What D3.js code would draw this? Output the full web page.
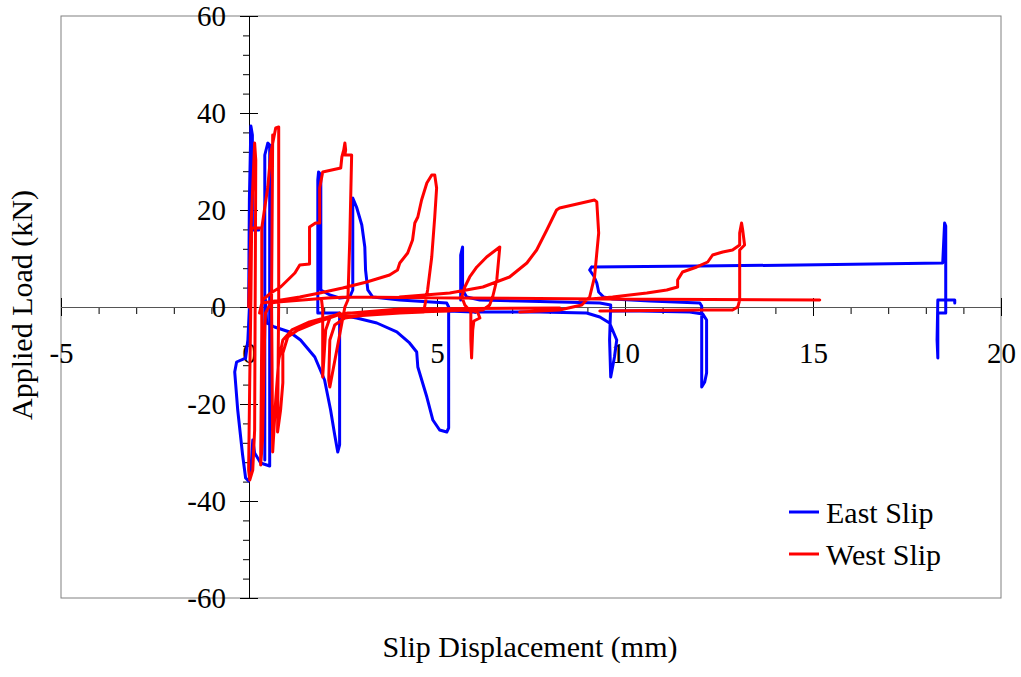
<!DOCTYPE html>
<html><head><meta charset="utf-8">
<script src="https://cdn.jsdelivr.net/npm/d3@7"></script>
<style>body{margin:0;background:#fff}svg{display:block}text{font-family:"Liberation Serif","Times New Roman",serif;fill:#000}</style>
</head><body><svg id="c" width="1021" height="677"></svg>
<script>
// ---- data (slip mm, load kN) ----
const xTicks = [-5, 0, 5, 10, 15, 20];
const yTicks = [-60, -40, -20, 0, 20, 40, 60];
const seriesNames = ["East Slip", "West Slip"];

const eastA = [[-0.01,0],[0.01,22.06],[0.05,37.32],[0.09,35.46],[0.09,15.88],[0.26,15.88]];
const eastB = [[0.02,1.44],[-0.03,-6.80],[-0.09,-10.52],[-0.33,-11.34],[-0.38,-13.40],[-0.30,-21.24],[-0.17,-30.52],[-0.09,-35.26],[-0.01,-35.88],[0.05,-33.61],[0.10,-27.42],[0.15,-30.10],[0.31,-32.16],[0.55,-32.78],[0.55,33.40],[0.50,33.81],[0.42,31.34],[0.42,-31.55]];
const eastC = [[0.44,1.44],[0.47,-3.30],[0.68,-4.12],[1.08,-5.15],[1.37,-6.80],[1.75,-10.31],[2.01,-15.05],[2.17,-21.24],[2.28,-26.39],[2.36,-29.90],[2.41,-28.45],[2.41,-1.65],[2.86,-2.27],[3.40,-3.30],[3.93,-5.15],[4.27,-7.42],[4.46,-9.28],[4.49,-12.37],[4.73,-18.56],[4.89,-23.30],[5.07,-25.36],[5.26,-25.77],[5.31,-24.95],[5.31,-0.82],[5.95,-1.03],[7.73,-1.03],[8.98,-1.24],[9.33,-2.06],[9.59,-3.30],[9.78,-6.80],[9.72,-10.31],[9.62,-14.43],[9.59,-6.80],[9.62,0.41],[9.33,0.82],[8.26,1.03],[7.20,1.24],[6.14,1.44],[5.79,2.06],[5.68,3.51],[5.68,12.37],[5.63,10.72],[5.63,1.44]];
const eastD = [[2.41,-1.24],[1.83,-1.24],[1.83,26.19],[1.85,27.84],[1.91,27.22],[1.91,3.51],[2.15,2.47],[2.41,1.86],[2.68,2.06],[2.76,3.51],[2.76,22.47],[2.86,20.62],[3.00,16.91],[3.08,12.37],[3.10,7.63],[3.16,3.51],[3.29,2.06],[4.01,1.44],[5.26,0.82],[5.31,0]];
const eastE = [[9.11,8.25],[9.06,7.63],[9.17,6.39],[9.25,4.95],[9.30,3.09],[9.43,2.06],[9.67,1.65],[10.66,1.24],[11.99,0.82],[12.04,0.21],[12.04,-16.49],[12.12,-15.46],[12.17,-13.61],[12.17,-2.68],[12.07,-1.44],[11.72,-1.03],[10.39,-0.82],[9.67,-0.82]];
const eastF = [[9.11,8.25],[11.99,8.45],[14.65,8.66],[18.45,9.07],[18.50,17.32],[18.53,16.70],[18.53,-1.24],[18.32,-1.24],[18.32,-10.52],[18.30,-6.80],[18.32,1.44],[18.77,1.44],[18.77,0.82]];

const westA = [[-0.01,0],[0.05,15.88],[0.15,33.81],[0.18,30.31],[0.15,-25.36],[0.10,-33.61],[0.02,-35.67],[-0.01,-33.61],[0.02,-15.05],[0.05,1.44],[0.07,16.29],[0.34,16.29],[0.50,24.74],[0.58,31.75],[0.71,36.91],[0.79,37.11],[0.79,1.44],[0.76,-25.77],[0.84,-21.24],[0.90,-15.67],[0.90,-9.48],[1.03,-6.19],[1.30,-4.74],[1.75,-3.30],[2.36,-1.65],[2.63,-1.24],[4.54,-0.82],[6.14,-0.62]];
const westB = [[0.34,16.29],[0.34,-4.74],[0.31,-32.58],[0.36,-27.42],[0.42,-4.12],[0.44,-1.24],[0.58,0.82],[0.76,1.03],[2.09,1.86],[2.63,2.06],[5.60,1.86],[9.33,1.65],[15.18,1.44]];
const westC = [[0.63,35.46],[0.60,1.44],[0.63,-29.90],[0.71,-19.18],[0.79,-10.93],[0.90,-6.80],[1.14,-4.74],[1.61,-3.09],[2.41,-1.44],[4.01,-0.41],[8.26,-0.21]];
const westD = [[0.28,-1.24],[0.36,1.44],[0.58,2.89],[0.84,4.12],[1.22,7.01],[1.35,8.66],[1.61,8.87],[1.61,16.49],[1.77,17.32],[1.88,17.32],[1.88,24.54],[1.96,27.84],[2.44,28.66],[2.47,30.93],[2.52,32.37],[2.55,33.81],[2.57,32.37],[2.55,31.34],[2.73,31.34],[2.68,13.81],[2.63,1.44],[2.55,0],[2.15,-16.49],[2.12,-15.05],[2.15,-6.80],[2.28,-3.71],[2.55,-2.27],[3.48,-1.24],[5.34,-0.82]];
const westE = [[1.93,1.44],[1.96,-0.62],[1.96,-14.43],[1.99,-10.93],[2.04,-4.74],[2.15,-2.27],[2.41,-1.24]];
const westF = [[0.36,0.82],[1.35,2.06],[1.88,2.89],[2.49,3.92],[3.13,5.15],[3.74,6.60],[3.95,7.63],[4.01,9.07],[4.22,11.13],[4.35,13.81],[4.41,17.32],[4.49,18.56],[4.59,22.06],[4.73,25.57],[4.86,27.22],[4.94,27.22],[4.99,24.54],[4.94,18.56],[4.86,10.31],[4.75,3.51],[4.67,0],[4.65,-1.03],[4.01,-1.24],[2.41,-2.06]];
const westG = [[5.07,-0.82],[5.87,-0.62],[6.08,-1.03],[6.14,-2.27],[5.98,-2.89],[5.95,-4.74],[5.92,-10.52],[5.90,-6.80],[5.90,-1.03],[5.74,0.41],[5.66,2.06],[5.74,4.12],[5.87,6.19],[6.06,8.25],[6.32,10.31],[6.67,12.37],[6.59,5.57],[6.48,2.06],[6.40,0.41],[6.22,-0.62],[5.87,-0.82]];
const westH = [[4.01,2.06],[5.34,2.89],[6.22,4.12],[6.93,6.19],[7.39,9.07],[7.65,11.75],[7.92,15.88],[8.18,20.0],[8.26,20.41],[9.19,22.06],[9.25,21.65],[9.30,15.26],[9.19,6.19],[9.06,2.06],[8.85,0.41],[8.26,-0.62],[7.20,-1.03]];
const westI = [[8.80,1.44],[9.67,2.06],[10.58,2.89],[11.11,3.51],[11.40,4.12],[11.40,5.57],[11.53,7.22],[11.91,8.25],[12.20,9.28],[12.33,10.72],[12.60,11.34],[12.86,11.75],[13.05,12.78],[13.05,15.26],[13.10,17.32],[13.13,15.88],[13.18,12.78],[13.05,11.75],[13.05,1.44],[13.00,0],[12.86,-0.62],[11.99,-0.62],[9.33,-0.82]];

const eastStrokes = [eastA, eastB, eastC, eastD, eastE, eastF];
const westStrokes = [westA, westB, westC, westD, westE, westF, westG, westH, westI];

// ---- drawing ----
const svg = d3.select("#c");
const x = d3.scaleLinear().domain([-5, 20]).range([61, 1001]);
const y = d3.scaleLinear().domain([-60, 60]).range([598, 16]);
const FS = 29;

svg.append("rect").attr("x", 61).attr("y", 16).attr("width", 940).attr("height", 582)
  .attr("fill", "none").attr("stroke", "#808080").attr("stroke-width", 1);

// minor ticks
const xMinor = d3.range(-5, 20.01, 1).filter(v => v % 5 !== 0);
svg.append("g").selectAll("line").data(xMinor).join("line")
  .attr("x1", d => x(d) + 0.5).attr("x2", d => x(d) + 0.5)
  .attr("y1", y(0)).attr("y2", y(0) + 7).attr("stroke", "#000");
const yMinor = d3.range(-60, 60.01, 4).filter(v => v % 20 !== 0);
svg.append("g").selectAll("line").data(yMinor).join("line")
  .attr("x1", x(0) - 6).attr("x2", x(0))
  .attr("y1", d => y(d) + 0.5).attr("y2", d => y(d) + 0.5).attr("stroke", "#000");

// x axis
const gx = svg.append("g").attr("transform", `translate(0,${y(0)})`)
  .call(d3.axisBottom(x).tickValues(xTicks).tickSize(9).tickFormat(d3.format("d")));
gx.select(".domain").remove();
gx.selectAll(".tick line").attr("y1", -9).attr("y2", 9).attr("stroke", "#000");
gx.selectAll(".tick text").attr("y", 56).attr("dy", 0).attr("font-size", FS)
  .attr("font-family", "Liberation Serif").text(d => d < 0 ? "-" + Math.abs(d) : d);
svg.append("line").attr("x1", x(-5)).attr("x2", x(20)).attr("y1", y(0) + 0.5).attr("y2", y(0) + 0.5)
  .attr("stroke", "#555");

// y axis
const gy = svg.append("g").attr("transform", `translate(${x(0)},0)`)
  .call(d3.axisLeft(y).tickValues(yTicks).tickSize(9).tickFormat(d3.format("d")));
gy.select(".domain").remove();
gy.selectAll(".tick line").attr("x1", -9).attr("x2", 9).attr("stroke", "#000");
gy.selectAll(".tick text").attr("x", -23).attr("dy", 9.5).attr("font-size", FS)
  .attr("font-family", "Liberation Serif").text(d => d < 0 ? "-" + Math.abs(d) : d);
svg.append("line").attr("x1", x(0) + 0.5).attr("x2", x(0) + 0.5).attr("y1", y(60)).attr("y2", y(-60))
  .attr("stroke", "#000");

// series
const line = d3.line().defined(d => d !== null).x(d => x(d[0])).y(d => y(d[1]));
function joinStrokes(strokes) {
  const out = [];
  strokes.forEach((s, i) => { if (i) out.push(null); s.forEach(p => out.push(p)); });
  return out;
}
const series = [
  { name: seriesNames[0], color: "#0000ff", pts: joinStrokes(eastStrokes) },
  { name: seriesNames[1], color: "#ff0000", pts: joinStrokes(westStrokes) }
];
svg.append("g").selectAll("path").data(series).join("path")
  .attr("d", d => line(d.pts)).attr("fill", "none").attr("stroke", d => d.color)
  .attr("stroke-width", 3).attr("stroke-linejoin", "round").attr("stroke-linecap", "round");

// titles
svg.append("text").attr("x", 530).attr("y", 657).attr("text-anchor", "middle")
  .attr("font-size", 30).text("Slip Displacement (mm)");
svg.append("text").attr("transform", "translate(32,305) rotate(-90)").attr("text-anchor", "middle")
  .attr("font-size", 30).text("Applied Load (kN)");

// legend
const lg = svg.append("g");
series.forEach((s, i) => {
  const yy = 512 + i * 42;
  lg.append("line").attr("x1", 789).attr("x2", 819).attr("y1", yy).attr("y2", yy)
    .attr("stroke", s.color).attr("stroke-width", 3);
  lg.append("text").attr("x", 826).attr("y", yy + 11).attr("font-size", 30).text(s.name);
});
</script></body></html>
